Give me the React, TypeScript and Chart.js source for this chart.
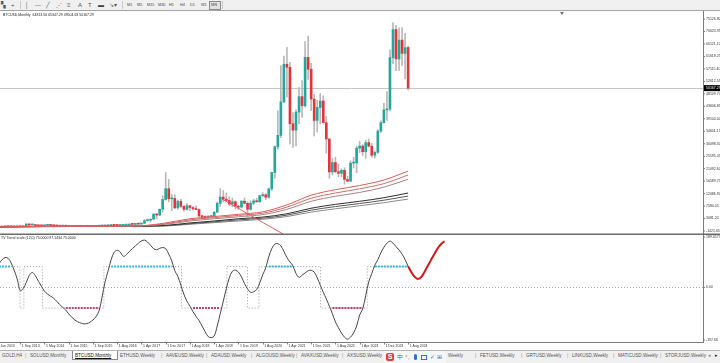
import React, { useEffect, useRef } from "react";
import { Chart, registerables } from "chart.js";

Chart.register(...registerables);

// ---------------- DATA ----------------
const TITLE = "BTCUSD,Monthly  64813.56 65347.29 49504.63 50167.29";
const IND_TITLE = "TV Trend scale (12,0) 75.0000 97.1434 75.0000";

// Monthly bars Jan 2013 .. Aug 2024 (broker history lacks Feb-Apr 2016)
const OPEN = [
  13.3, 20.4, 33.4, 93, 139, 129, 97, 106, 135, 128, 204, 1128,
  754, 830, 550, 448, 445, 628, 640, 585, 480, 387, 338, 378,
  318, 217, 254, 244, 236, 230, 263, 283, 230, 236, 314, 377,
  430, 448, 531, 673, 624, 573, 609, 700, 742,
  966, 965, 1190, 1080, 1348, 2300, 2480, 2870, 4700, 4340, 6450, 9950,
  13850, 10200, 10350, 6930, 9240, 7500, 6390, 7730, 7030, 6625, 6310, 4040,
  3740, 3460, 3820, 4100, 5340, 8580, 10820, 10090, 9600, 8300, 9150, 7560,
  7200, 9350, 8560, 6420, 8630, 9450, 9140, 11350, 11650, 10780, 13800, 19700,
  28990, 33100, 45200, 58800, 57700, 37300, 35000, 41500, 47100, 43800, 61300, 57000,
  46200, 38500, 43200, 45500, 37700, 31800, 19900, 23300, 20000, 19400, 20500, 17200,
  16550, 23100, 23150, 28500, 29250, 27200, 30500, 29200, 25950, 26970, 34650, 37700,
  42300, 42600, 61200, 71300, 60700, 67500, 62700, 64813.56,
];
const HIGH = [
  20.4, 33.4, 95, 266, 140, 129, 111, 135, 139, 215, 1163, 1159,
  995, 860, 700, 540, 640, 680, 650, 600, 495, 415, 458, 430,
  318, 265, 300, 260, 247, 265, 318, 285, 247, 330, 500, 467,
  460, 550, 780, 704, 626, 610, 740, 755, 980,
  1150, 1200, 1290, 1350, 2760, 2980, 2920, 4750, 4980, 6450, 11400, 19700,
  17200, 11800, 11700, 9750, 10000, 7780, 8500, 7740, 7410, 7680, 6550, 4250,
  4100, 4200, 4150, 5640, 9100, 13900, 13200, 12300, 10950, 10500, 9500, 7750,
  9600, 10500, 9200, 9500, 10080, 10400, 11450, 12480, 12100, 14100, 19800, 29300,
  41950, 58350, 61780, 64900, 59500, 41300, 42300, 50500, 52900, 67000, 69000, 59100,
  47900, 45800, 48200, 47400, 39900, 31900, 24700, 25200, 22800, 21000, 21400, 18400,
  23900, 25250, 29200, 31000, 29800, 31400, 31800, 30200, 27500, 35200, 38400, 44700,
  48900, 64000, 73800, 72800, 71900, 72000, 70000, 65347.29,
];
const LOW = [
  12.7, 19.1, 33.2, 50, 108, 89, 66, 101, 85, 102, 203, 455,
  750, 400, 450, 340, 420, 550, 563, 445, 360, 275, 320, 310,
  165, 210, 236, 212, 225, 218, 253, 197, 223, 235, 300, 350,
  350, 440, 520, 600, 470, 570, 605, 690, 740,
  750, 918, 890, 1075, 1348, 2100, 1800, 2670, 2950, 4100, 5500, 9700,
  9100, 5900, 6600, 6450, 7030, 5750, 6100, 5880, 6100, 6200, 3600, 3150,
  3400, 3400, 3700, 4080, 5340, 7450, 9100, 9400, 7700, 7300, 6500, 6450,
  6900, 8450, 3850, 6150, 8100, 8900, 8900, 10900, 9880, 10400, 13200, 17600,
  28100, 32300, 44900, 47000, 30000, 28800, 29300, 37300, 39600, 43300, 53300, 42000,
  32900, 34300, 37200, 37600, 26700, 17600, 18800, 19600, 18100, 18200, 15500, 16300,
  16500, 21400, 19600, 26900, 25800, 24800, 28900, 25300, 24900, 26600, 34100, 37600,
  38500, 41900, 59000, 56500, 56600, 58400, 53500, 49504.63,
];
const CLOSE = [
  20.4, 33.4, 93, 139, 129, 97, 106, 135, 128, 204, 1128, 754,
  830, 550, 448, 445, 628, 640, 585, 480, 387, 338, 378, 318,
  217, 254, 244, 236, 230, 263, 283, 230, 236, 314, 377, 430,
  368, 531, 673, 624, 573, 609, 700, 742, 966,
  965, 1190, 1080, 1348, 2300, 2480, 2870, 4700, 4340, 6450, 9950, 13850,
  10200, 10350, 6930, 9240, 7500, 6390, 7730, 7030, 6625, 6310, 4040, 3740,
  3460, 3820, 4100, 5340, 8580, 10820, 10090, 9600, 8300, 9150, 7560, 7200,
  9350, 8560, 6420, 8630, 9450, 9140, 11350, 11650, 10780, 13800, 19700, 28990,
  33100, 45200, 58800, 57700, 37300, 35000, 41500, 47100, 43800, 61300, 57000, 46200,
  38500, 43200, 45500, 37700, 31800, 19900, 23300, 20000, 19400, 20500, 17200, 16550,
  23100, 23150, 28500, 29250, 27200, 30500, 29200, 25950, 26970, 34650, 37700, 42300,
  42600, 61200, 71300, 60700, 67500, 62700, 64800, 50167.29,
];
const CURRENT_PRICE = 50167.29;

const PRICE_TICKS = [
  -1421.65, 3081.2, 7584.05, 12086.9, 16589.75, 21092.6, 25595.45, 30098.3, 34601.15,
  39104.0, 43606.85, 48109.7, 52612.55, 57115.4, 61618.25, 66121.1, 70623.95, 75126.8,
];

const DATE_LABELS = [
  "1 Jan 2013", "1 Sep 2013", "1 May 2014", "1 Jan 2015", "1 Sep 2015", "1 Aug 2016",
  "1 Apr 2017", "1 Dec 2017", "1 Aug 2018", "1 Apr 2019", "1 Dec 2019", "1 Aug 2020",
  "1 Apr 2021", "1 Dec 2021", "1 Aug 2022", "1 Apr 2023", "1 Dec 2023", "1 Aug 2024",
];
const LABEL_EVERY = 8;

// moving averages, read at sampled bars
const MA_BARS = [0, 16, 32, 40, 48, 56, 64, 72, 80, 88, 96, 104, 112, 120, 128, 136];
const MA_RED_1 = [60, 300, 330, 380, 500, 1500, 3000, 3800, 4600, 5500, 8000, 11500, 13500, 15000, 17000, 20200];
const MA_RED_2 = [55, 280, 310, 350, 450, 1200, 2600, 3400, 4200, 5000, 7200, 10400, 12300, 13800, 15700, 18800];
const MA_RED_3 = [50, 260, 290, 320, 400, 1000, 2200, 3000, 3700, 4500, 6400, 9300, 11100, 12500, 14400, 17300];
const MA_DARK_1 = [40, 200, 250, 280, 330, 600, 1500, 2200, 3000, 3600, 4800, 6800, 8200, 9300, 10600, 12300];
const MA_DARK_2 = [35, 180, 230, 260, 300, 500, 1200, 1900, 2600, 3200, 4300, 6100, 7400, 8500, 9700, 11200];
const MA_DARK_3 = [30, 160, 210, 240, 280, 400, 1000, 1600, 2200, 2800, 3800, 5400, 6600, 7700, 8800, 10100];

// hand-drawn trend line: [bar, price]
const TREND_LINE = [
  [74.6, 10133],
  [100, -5843],
];

// oscillator, one value per bar
const OSC = [
  70, 85, 100, 108, 105, 88, 62, 30, -12, -4, 18, 44,
  54, 42, 22, 4, -14, -24, -32, -39, -50, -62, -72, -82,
  -96, -108, -118, -125, -129, -132, -131, -126, -118, -106, -85, -35,
  20, 60, 100, 127, 134, 128, 112, 118, 130,
  140, 150, 160, 168, 171, 164, 152, 140, 136, 141, 144, 140,
  120, 96, 60, 40, 8, -25, -50, -68, -88, -105, -120, -140,
  -160, -178, -182, -176, -140, -95, -50, -5, 35, 58, 62, 55,
  38, 14, -5, -18, -16, -8, 15, 45, 70, 110, 140, 156,
  158, 150, 130, 108, 92, 78, 50, 36, 44, 52, 60, 62,
  55, 35, 8, -18, -42, -68, -95, -125, -146, -165, -180, -187,
  -180, -165, -140, -100, -78, -30, 20, 50, 80, 100, 125, 145,
  160, 167, 160, 147, 135, 120, 100, 76,
];
// projected part of the oscillator: [bar, value]
const OSC_FORECAST = [
  [136, 76], [137, 56], [138, 40], [139, 31], [140, 34], [141, 48], [142, 68],
  [143, 88], [144, 108], [145, 127], [146, 145], [147, 158], [148, 167],
];
// trend-state step line: [bar where it changes, level]
const STEP_CHANGES = [
  [0, 75], [7.9, -75], [9.2, 75], [15.3, -75], [35.6, 75], [61.2, -75], [76.2, 75],
  [83.0, -75], [86.8, 75], [107.1, -75], [122.5, 75],
];
const STEP_END = 136;
const UP_RANGES = [[1, 5], [38, 58], [90, 98], [125, 136]];
const DOWN_RANGES = [[23, 34], [65, 74], [111, 121]];
const LEVEL = 75;
const IND_MAX = 189.3573;
const IND_MIN = -197.66;
const IND_AXIS_LABELS = [
  [189.3573, "189.3573"],
  [0, "0.00"],
  [-197.66, "-197.66"],
];

const TABS = [
  "GOLD,H4", "SOLUSD,Monthly", "BTCUSD,Monthly", "ETHUSD,Weekly", "AAVEUSD,Weekly",
  "ADAUSD,Weekly", "ALGOUSD,Weekly", "AVAXUSD,Weekly", "AXSUSD,Weekly", "Weekly",
  "FETUSD,Weekly", "GRTUSD,Weekly", "LINKUSD,Weekly", "MATICUSD,Weekly", "STORJUSD,Weekly",
];
const TAB_LEFT = [2, 30, 75, 120, 166, 211, 256, 301, 347, 448, 480, 526, 572, 618, 665];
const ACTIVE_TAB = 2;
const TIMEFRAMES = ["M1", "M5", "M15", "M30", "H1", "H4", "D1", "W1", "MN"];

// ---------------- STYLE ----------------
const X_MIN = 1.32;
const X_MAX = 233.3;
const Y_MIN = -2505;
const Y_MAX = 77657;
const AXIS_FONT = "3.5px 'Liberation Sans', Arial, sans-serif";
const BULL = "#26a69a";
const BEAR = "#e0353b";
const WICK = "#b8b8b8";

const pts = (xs: number[], ys: number[]) => xs.map((x, i) => ({ x, y: ys[i] }));

function rangesToPoints(ranges: number[][], level: number) {
  const out: any[] = [];
  ranges.forEach(([s, e]) => {
    for (let i = s; i <= e; i++) out.push({ x: i, y: level });
    out.push({ x: e + 0.5, y: null });
  });
  return out;
}

const mainDeco = {
  id: "mainDeco",
  beforeDatasetsDraw(chart: any) {
    const { ctx, chartArea: a, scales } = chart;
    const py = Math.round(scales.y.getPixelForValue(CURRENT_PRICE)) + 0.5;
    ctx.save();
    ctx.strokeStyle = "#c4c4c4";
    ctx.lineWidth = 1;
    ctx.beginPath();
    ctx.moveTo(a.left, py);
    ctx.lineTo(a.right, py);
    ctx.stroke();
    ctx.restore();
  },
  afterDraw(chart: any) {
    const { ctx, chartArea: a, scales } = chart;
    const y = scales.y;
    ctx.save();
    ctx.strokeStyle = "#7a7a7a";
    ctx.lineWidth = 1;
    ctx.beginPath();
    ctx.moveTo(a.right + 0.5, 0);
    ctx.lineTo(a.right + 0.5, chart.height);
    ctx.stroke();
    ctx.strokeStyle = "#6a6a6a";
    ctx.lineWidth = 1.5;
    ctx.beginPath();
    ctx.moveTo(0, a.bottom + 0.25);
    ctx.lineTo(chart.width, a.bottom + 0.25);
    ctx.stroke();

    ctx.font = AXIS_FONT;
    ctx.textBaseline = "middle";
    ctx.textAlign = "left";
    PRICE_TICKS.forEach((v) => {
      const py = y.getPixelForValue(v);
      ctx.strokeStyle = "#7a7a7a";
      ctx.lineWidth = 1;
      ctx.beginPath();
      ctx.moveTo(a.right, py);
      ctx.lineTo(a.right + 2, py);
      ctx.stroke();
      ctx.fillStyle = "#333";
      ctx.fillText(v.toFixed(2), a.right + 3, py);
    });
    const cp = y.getPixelForValue(CURRENT_PRICE);
    ctx.fillStyle = "#000";
    ctx.fillRect(a.right + 1, cp - 3, chart.width - a.right - 1, 6);
    ctx.fillStyle = "#fff";
    ctx.fillText(CURRENT_PRICE.toFixed(2), a.right + 3, cp);

    ctx.fillStyle = "#222";
    ctx.font = AXIS_FONT;
    ctx.fillText(TITLE, 3, a.top + 3);

    // chart shift marker
    ctx.fillStyle = "#707070";
    ctx.beginPath();
    ctx.moveTo(560, a.top);
    ctx.lineTo(564, a.top);
    ctx.lineTo(562, a.top + 3);
    ctx.closePath();
    ctx.fill();
    ctx.restore();
  },
};

const indDeco = {
  id: "indDeco",
  beforeDatasetsDraw(chart: any) {
    const { ctx, chartArea: a, scales } = chart;
    const py = Math.round(scales.y.getPixelForValue(0)) + 0.5;
    ctx.save();
    ctx.strokeStyle = "#a8a8a8";
    ctx.lineWidth = 1;
    ctx.setLineDash([1, 2]);
    ctx.beginPath();
    ctx.moveTo(a.left, py);
    ctx.lineTo(a.right, py);
    ctx.stroke();
    ctx.restore();
  },
  afterDraw(chart: any) {
    const { ctx, chartArea: a, scales } = chart;
    const x = scales.x;
    const y = scales.y;
    ctx.save();
    ctx.strokeStyle = "#7a7a7a";
    ctx.lineWidth = 1;
    ctx.beginPath();
    ctx.moveTo(a.right + 0.5, 0);
    ctx.lineTo(a.right + 0.5, a.bottom + 1);
    ctx.stroke();
    ctx.beginPath();
    ctx.moveTo(0, a.bottom + 0.5);
    ctx.lineTo(a.right + 0.5, a.bottom + 0.5);
    ctx.stroke();

    ctx.font = AXIS_FONT;
    ctx.textBaseline = "middle";
    ctx.textAlign = "left";
    IND_AXIS_LABELS.forEach(([v, t]: any) => {
      let py = y.getPixelForValue(v);
      py = Math.min(Math.max(py, a.top + 2), a.bottom - 2);
      ctx.beginPath();
      ctx.moveTo(a.right, py);
      ctx.lineTo(a.right + 2, py);
      ctx.stroke();
      ctx.fillStyle = "#333";
      ctx.fillText(t, a.right + 3, py);
    });

    DATE_LABELS.forEach((t, k) => {
      const px = x.getPixelForValue(k * LABEL_EVERY);
      ctx.strokeStyle = "#7a7a7a";
      ctx.beginPath();
      ctx.moveTo(Math.round(px) + 0.5, a.bottom);
      ctx.lineTo(Math.round(px) + 0.5, a.bottom + 2.5);
      ctx.stroke();
      ctx.fillStyle = "#333";
      ctx.fillText(t, px + 1.5, a.bottom + 4.5);
    });

    ctx.fillStyle = "#222";
    ctx.fillText(IND_TITLE, 1, a.top + 3);
    ctx.restore();
  },
};

function mainConfig(): any {
  const idx = OPEN.map((_, i) => i);
  return {
    type: "bar",
    data: {
      datasets: [
        {
          type: "bar",
          data: idx.map((i) => ({ x: i, y: [LOW[i], HIGH[i]] })),
          backgroundColor: WICK,
          barThickness: 1,
          minBarLength: 1,
          grouped: false,
          borderWidth: 0,
          order: 5,
        },
        {
          type: "bar",
          data: idx.map((i) => ({ x: i, y: [OPEN[i], CLOSE[i]] })),
          backgroundColor: idx.map((i) => (CLOSE[i] >= OPEN[i] ? BULL : BEAR)),
          barThickness: 2,
          minBarLength: 1,
          grouped: false,
          borderWidth: 0,
          order: 4,
        },
        ...[
          [MA_RED_1, "#e05a5a"],
          [MA_RED_2, "#c7706d"],
          [MA_RED_3, "#a9837f"],
          [MA_DARK_1, "#2e2e2e"],
          [MA_DARK_2, "#585858"],
          [MA_DARK_3, "#8a8a8a"],
        ].map(([vals, col]: any) => ({
          type: "line",
          data: pts(MA_BARS, vals),
          borderColor: col,
          borderWidth: 1,
          pointRadius: 0,
          tension: 0.4,
          cubicInterpolationMode: "monotone",
          order: 2,
        })),
        {
          type: "line",
          data: TREND_LINE.map(([x, y]) => ({ x, y })),
          borderColor: "#e06060",
          borderWidth: 1,
          pointRadius: 0,
          order: 1,
        },
      ],
    },
    options: {
      animation: false,
      responsive: false,
      devicePixelRatio: 1,
      events: [],
      layout: { padding: { top: 1, bottom: 1, left: 0, right: 0 } },
      plugins: { legend: { display: false }, tooltip: { enabled: false } },
      scales: {
        x: {
          type: "linear",
          min: X_MIN,
          max: X_MAX,
          offset: false,
          display: false,
        },
        y: {
          type: "linear",
          position: "right",
          min: Y_MIN,
          max: Y_MAX,
          ticks: { display: false },
          grid: { display: false },
          border: { display: false },
          afterFit: (s: any) => {
            s.width = 17;
          },
        },
      },
    },
    plugins: [mainDeco],
  };
}

function indConfig(): any {
  const stepPts = STEP_CHANGES.map(([x, y]) => ({ x, y }));
  stepPts.push({ x: STEP_END, y: STEP_CHANGES[STEP_CHANGES.length - 1][1] });
  return {
    type: "line",
    data: {
      datasets: [
        {
          data: stepPts,
          stepped: "before",
          borderColor: "#9c9c9c",
          borderWidth: 1,
          borderDash: [1, 2],
          pointRadius: 0,
          order: 4,
        },
        {
          data: rangesToPoints(UP_RANGES, LEVEL),
          borderColor: "#2fb9dc",
          borderWidth: 2,
          borderDash: [2, 1],
          pointRadius: 0,
          spanGaps: false,
          order: 3,
        },
        {
          data: rangesToPoints(DOWN_RANGES, -LEVEL),
          borderColor: "#c43d74",
          borderWidth: 2,
          borderDash: [2, 1],
          pointRadius: 0,
          spanGaps: false,
          order: 3,
        },
        {
          data: OSC.map((v, i) => ({ x: i, y: v })),
          borderColor: "#444444",
          borderWidth: 1,
          pointRadius: 0,
          tension: 0.35,
          order: 2,
        },
        {
          data: OSC_FORECAST.map(([x, y]) => ({ x, y })),
          borderColor: "#d01818",
          borderWidth: 2,
          pointRadius: 0,
          tension: 0.35,
          order: 1,
        },
      ],
    },
    options: {
      animation: false,
      responsive: false,
      devicePixelRatio: 1,
      events: [],
      layout: { padding: 0 },
      plugins: { legend: { display: false }, tooltip: { enabled: false } },
      scales: {
        x: {
          type: "linear",
          min: X_MIN,
          max: X_MAX,
          offset: false,
          ticks: { display: false },
          grid: { display: false },
          border: { display: false },
          afterFit: (s: any) => {
            s.height = 8;
          },
        },
        y: {
          type: "linear",
          position: "right",
          min: IND_MIN,
          max: IND_MAX,
          ticks: { display: false },
          grid: { display: false },
          border: { display: false },
          afterFit: (s: any) => {
            s.width = 17;
          },
        },
      },
    },
    plugins: [indDeco],
  };
}

const TOOL_ICONS: [number, string, string][] = [
  [1, "▚", "#555"],
  [11, "+", "#555"],
  [25, "│", "#555"],
  [35, "—", "#555"],
  [46, "╱", "#555"],
  [56, "⋰", "#b05050"],
  [67, "≡", "#666"],
  [78, "A", "#555"],
  [88, "T", "#555"],
  [98, "▬", "#444"],
  [109, "↘▾", "#555"],
];
const TF_LEFT = [127, 137, 147, 158, 169, 180, 190, 201, 211];

export default function App() {
  const mainRef = useRef<HTMLCanvasElement>(null);
  const indRef = useRef<HTMLCanvasElement>(null);

  useEffect(() => {
    const c1 = new Chart(mainRef.current as HTMLCanvasElement, mainConfig());
    const c2 = new Chart(indRef.current as HTMLCanvasElement, indConfig());
    return () => {
      c1.destroy();
      c2.destroy();
    };
  }, []);

  const font = "'Liberation Sans', Arial, sans-serif";
  return (
    <div
      style={{
        position: "relative",
        width: 720,
        height: 363,
        overflow: "hidden",
        background: "#fff",
        fontFamily: font,
      }}
    >
      <style>{`html,body{margin:0;padding:0;background:#fff;}`}</style>
      {/* toolbar */}
      <div
        style={{
          position: "absolute",
          left: 0,
          top: 0,
          width: 720,
          height: 10,
          background: "#f0f0f0",
          borderBottom: "1px solid #a4a4a4",
        }}
      >
        {TOOL_ICONS.map(([l, g, c], i) => (
          <span
            key={i}
            style={{ position: "absolute", left: l, top: 1, fontSize: 6, lineHeight: "8px", color: c }}
          >
            {g}
          </span>
        ))}
        <div style={{ position: "absolute", left: 20, top: 1, width: 1, height: 8, background: "#c8c8c8" }} />
        <div style={{ position: "absolute", left: 122, top: 1, width: 1, height: 8, background: "#c8c8c8" }} />
        <div
          style={{
            position: "absolute",
            left: 209,
            top: 1,
            width: 10,
            height: 7,
            border: "1px solid #8a8a8a",
            background: "#e2e2e2",
          }}
        />
        {TIMEFRAMES.map((t, i) => (
          <span
            key={t}
            style={{
              position: "absolute",
              left: TF_LEFT[i],
              top: 2,
              fontSize: 3.8,
              lineHeight: "6px",
              color: "#444",
            }}
          >
            {t}
          </span>
        ))}
        <div style={{ position: "absolute", left: 222, top: 1, width: 1, height: 8, background: "#c8c8c8" }} />
      </div>

      <canvas
        ref={mainRef}
        width={720}
        height={224}
        style={{ position: "absolute", left: 0, top: 11, width: 720, height: 224 }}
      />
      <canvas
        ref={indRef}
        width={720}
        height={115}
        style={{ position: "absolute", left: 0, top: 235, width: 720, height: 115 }}
      />

      {/* symbol tabs */}
      <div
        style={{
          position: "absolute",
          left: 0,
          top: 350,
          width: 720,
          height: 13,
          background: "#f0f0f0",
          borderTop: "1px solid #b4b4b4",
        }}
      >
        <div
          style={{
            position: "absolute",
            left: 72,
            top: 0,
            width: 44,
            height: 8,
            background: "#fff",
            border: "1px solid #8a8a8a",
            borderTop: "none",
          }}
        />
        {TABS.map((t, i) => (
          <React.Fragment key={t + i}>
            {i > 0 && i !== ACTIVE_TAB && i !== ACTIVE_TAB + 1 && (
              <span
                style={{
                  position: "absolute",
                  left: TAB_LEFT[i] - 5,
                  top: 1,
                  fontSize: 5,
                  lineHeight: "7px",
                  color: "#9a9a9a",
                }}
              >
                |
              </span>
            )}
            <span
              style={{
                position: "absolute",
                left: TAB_LEFT[i],
                top: 1,
                fontSize: 4.6,
                lineHeight: "7px",
                color: i === ACTIVE_TAB ? "#111" : "#555",
                textDecoration: i === ACTIVE_TAB ? "underline" : "none",
                whiteSpace: "nowrap",
              }}
            >
              {t}
            </span>
          </React.Fragment>
        ))}
        {/* input-method toolbar overlay */}
        <div
          style={{
            position: "absolute",
            left: 384,
            top: 0,
            width: 62,
            height: 12,
            background: "#f6f6f6",
          }}
        >
          <div
            style={{
              position: "absolute",
              left: 2,
              top: 2,
              width: 8,
              height: 8,
              borderRadius: 2,
              background: "#e8382f",
              color: "#fff",
              fontSize: 7,
              lineHeight: "8px",
              textAlign: "center",
              fontWeight: 700,
            }}
          >
            S
          </div>
          <span style={{ position: "absolute", left: 13, top: 2, fontSize: 6, lineHeight: "8px", color: "#2f6fd6" }}>
            中
          </span>
          <span style={{ position: "absolute", left: 21, top: 2, fontSize: 6, lineHeight: "8px", color: "#2f6fd6" }}>
            °,
          </span>
          <div style={{ position: "absolute", left: 30, top: 3, width: 3, height: 6, borderRadius: 2, background: "#2f6fd6" }} />
          <div style={{ position: "absolute", left: 37, top: 4, width: 6, height: 5, border: "1px solid #2f6fd6", boxSizing: "border-box" }} />
          <span style={{ position: "absolute", left: 46, top: 2, fontSize: 6, lineHeight: "8px", color: "#7a4fc4" }}>
            ✓
          </span>
          <span style={{ position: "absolute", left: 53, top: 2, fontSize: 6, lineHeight: "8px", color: "#2f6fd6" }}>
            ⊞
          </span>
        </div>
        <span style={{ position: "absolute", left: 708, top: 1, fontSize: 5, lineHeight: "7px", color: "#888" }}>
          ◂
        </span>
        <span style={{ position: "absolute", left: 715, top: 1, fontSize: 5, lineHeight: "7px", color: "#222" }}>
          ▸
        </span>
      </div>
    </div>
  );
}
